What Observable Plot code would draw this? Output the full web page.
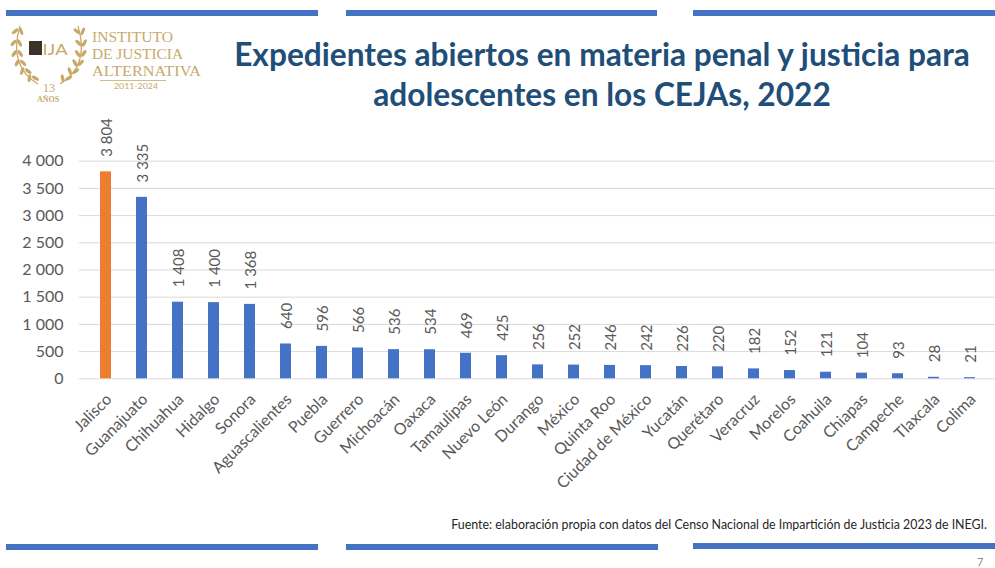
<!DOCTYPE html>
<html>
<head>
<meta charset="utf-8">
<script src="https://cdn.jsdelivr.net/npm/d3@7"></script>
<script src="https://cdn.jsdelivr.net/npm/@observablehq/plot@0.6"></script>
<style>
  html, body { margin: 0; padding: 0; background: #fff; }
  #page { position: relative; width: 995px; height: 568px; overflow: hidden; font-family: Lato, "Open Sans", sans-serif; background: #fff; }
  .seg { position: absolute; height: 6px; background: #4472C4; }
  #chart { position: absolute; left: 0; top: 100px; }
  #chart svg { overflow: visible; }
  #source { position: absolute; right: 8px; top: 517px; font-size: 12.4px; line-height: 15px; color: #262626; white-space: nowrap; }
  #pagenum { position: absolute; left: 977px; top: 555px; font-size: 11px; color: #8c8c8c; }
  #overlay { position: absolute; left: 0; top: 0; }
</style>
</head>
<body>
<div id="page">
  <div class="seg" style="left:6px;top:10px;width:312px;"></div>
  <div class="seg" style="left:346px;top:10px;width:311px;"></div>
  <div class="seg" style="left:693px;top:10px;width:302px;"></div>
  <div class="seg" style="left:6px;top:544px;width:312px;"></div>
  <div class="seg" style="left:346px;top:544px;width:312px;"></div>
  <div class="seg" style="left:693px;top:543px;width:302px;"></div>
  <div id="chart"></div>
  <svg id="overlay" width="995" height="130"></svg>
  <div id="source">Fuente: elaboración propia con datos del Censo Nacional de Impartición de Justicia 2023 de INEGI.</div>
  <div id="pagenum">7</div>
</div>
<script>
// ---- Data ----
const states = ["Jalisco","Guanajuato","Chihuahua","Hidalgo","Sonora","Aguascalientes","Puebla","Guerrero","Michoacán","Oaxaca","Tamaulipas","Nuevo León","Durango","México","Quinta Roo","Ciudad de México","Yucatán","Querétaro","Veracruz","Morelos","Coahuila","Chiapas","Campeche","Tlaxcala","Colima"];
const values = [3804,3335,1408,1400,1368,640,596,566,536,534,469,425,256,252,246,242,226,220,182,152,121,104,93,28,21];
const highlighted = ["Jalisco"];
const yTicks = [0,500,1000,1500,2000,2500,3000,3500,4000];
const titleLines = ["Expedientes abiertos en materia penal y justicia para", "adolescentes en los CEJAs, 2022"];

const fmt = v => String(v).replace(/\B(?=(\d{3})+(?!\d))/g, "\u00a0");
const data = states.map((s, i) => ({state: s, value: values[i], hi: highlighted.includes(s)}));

const chart = Plot.plot({
  width: 995,
  height: 460,
  marginTop: 60.7,
  marginBottom: 181.7,
  marginLeft: 79,
  marginRight: 0,
  x: {domain: states, paddingInner: 0.7, paddingOuter: 0.35, label: null},
  y: {domain: [0, 4000], label: null},
  style: {fontFamily: "Lato, 'Open Sans', sans-serif", color: "#595959", background: "transparent", overflow: "visible"},
  marks: [
    Plot.ruleY(yTicks, {stroke: "#D9D9D9", strokeWidth: 1}),
    Plot.barY(data.filter(d => !d.hi), {x: "state", y: "value", fill: "#4472C4"}),
    Plot.barY(data.filter(d => d.hi), {x: "state", y: "value", fill: "#ED7D31"}),
    Plot.text(data, {x: "state", y: "value", text: d => fmt(d.value), rotate: -90, textAnchor: "start", dy: -15, dx: 1, fontSize: 15, fill: "#595959"}),
    Plot.axisY({ticks: yTicks, tickFormat: fmt, tickSize: 0, tickPadding: 16, fontSize: 16, fill: "#595959"}),
    Plot.axisX({tickRotate: -45, tickSize: 0, tickPadding: 18, fontSize: 16, fill: "#595959", dx: 3})
  ]
});
document.getElementById("chart").appendChild(chart);

// ---- Title ----
const ns = "http://www.w3.org/2000/svg";
const ov = document.getElementById("overlay");
const baselines = [66, 106];
const tEls = titleLines.map((t, i) => {
  const el = document.createElementNS(ns, "text");
  el.setAttribute("x", 602);
  el.setAttribute("y", baselines[i]);
  el.setAttribute("text-anchor", "middle");
  el.setAttribute("font-family", "Lato, 'Open Sans', sans-serif");
  el.setAttribute("font-weight", "bold");
  el.setAttribute("font-size", 28);
  el.setAttribute("fill", "#1F4E79");
  el.textContent = t;
  ov.appendChild(el);
  return el;
});
const w0 = tEls[0].getComputedTextLength();
if (w0 > 0) {
  const fs = 28 * 736 / w0;
  tEls.forEach(el => el.setAttribute("font-size", fs.toFixed(2)));
}

// ---- Logo (decorative) ----
const gold = "#C8A96A";
const logo = document.createElementNS(ns, "g");
ov.appendChild(logo);
[-1, 1].forEach(s => {
  const x0 = s < 0 ? 38 : 60, x1 = s < 0 ? 8 : 90, x2 = s < 0 ? 20 : 78;
  const y0 = 84, y1 = 66, y2 = 26;
  const path = document.createElementNS(ns, "path");
  path.setAttribute("d", `M${x0},${y0} Q${x1},${y1} ${x2},${y2}`);
  path.setAttribute("stroke", gold);
  path.setAttribute("stroke-width", 1.3);
  path.setAttribute("fill", "none");
  logo.appendChild(path);
  for (let k = 0; k < 6; k++) {
    const t = 0.1 + k / 6.2;
    const x = (1 - t) * (1 - t) * x0 + 2 * (1 - t) * t * x1 + t * t * x2;
    const y = (1 - t) * (1 - t) * y0 + 2 * (1 - t) * t * y1 + t * t * y2;
    for (const off of [-1, 1]) {
      const ex = x + off * 3, ey = y - 2;
      const e = document.createElementNS(ns, "ellipse");
      e.setAttribute("cx", ex);
      e.setAttribute("cy", ey);
      e.setAttribute("rx", 1.7);
      e.setAttribute("ry", 4);
      e.setAttribute("transform", `rotate(${off * s * 35 + s * (25 - k * 8)} ${ex} ${ey})`);
      e.setAttribute("fill", gold);
      logo.appendChild(e);
    }
  }
});
const box = document.createElementNS(ns, "rect");
box.setAttribute("x", 29); box.setAttribute("y", 41); box.setAttribute("width", 13); box.setAttribute("height", 14);
box.setAttribute("fill", "#3a3228");
logo.appendChild(box);
function addText(txt, x, y, size, opts = {}) {
  const el = document.createElementNS(ns, "text");
  el.setAttribute("x", x); el.setAttribute("y", y);
  el.setAttribute("font-size", size);
  el.setAttribute("font-family", opts.family || "'Liberation Serif', serif");
  el.setAttribute("fill", opts.fill || gold);
  if (opts.anchor) el.setAttribute("text-anchor", opts.anchor);
  if (opts.weight) el.setAttribute("font-weight", opts.weight);
  if (opts.len) { el.setAttribute("textLength", opts.len); el.setAttribute("lengthAdjust", "spacingAndGlyphs"); }
  el.textContent = txt;
  ov.appendChild(el);
  return el;
}
addText("IJA", 55, 55, 16, {anchor: "middle", family: "Lato, sans-serif", len: 25});
addText("13", 49, 92, 12, {anchor: "middle"});
addText("AÑOS", 48, 102, 8, {anchor: "middle", weight: "bold"});
addText("INSTITUTO", 92, 42, 15, {len: 81});
addText("DE JUSTICIA", 92, 59, 15, {len: 91});
addText("ALTERNATIVA", 92, 76, 15, {len: 109});
const ln = document.createElementNS(ns, "line");
ln.setAttribute("x1", 100); ln.setAttribute("x2", 166); ln.setAttribute("y1", 80.5); ln.setAttribute("y2", 80.5);
ln.setAttribute("stroke", gold); ln.setAttribute("stroke-width", 0.8);
ov.appendChild(ln);
addText("2011-2024", 136, 89, 7, {anchor: "middle", family: "Lato, sans-serif", len: 44});
</script>
</body>
</html>
